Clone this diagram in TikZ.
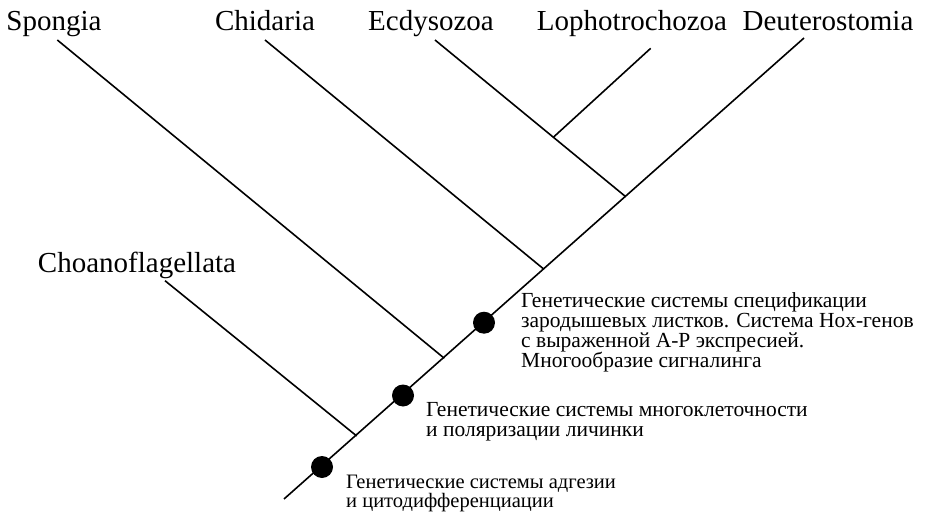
\documentclass[tikz,border=0pt]{standalone}
\usepackage{fontspec}
\setmainfont{Liberation Serif}
\begin{document}
\begin{tikzpicture}[x=1pt,y=-1pt,
  branch/.style={line width=1.6pt,line cap=butt},
  taxon/.style={inner sep=0pt,anchor=base,font=\fontsize{29}{29}\selectfont},
  note/.style={inner sep=0pt,anchor=north west,align=left,font=\fontsize{21.5}{20}\selectfont},
  event/.style={circle,fill=black,draw=none,minimum size=22pt,inner sep=0pt}]
\useasboundingbox (0,0) rectangle (926,513);
% trunk and junctions
\coordinate (root) at (284,499);
\coordinate (jchoano) at (356.7,436);
\coordinate (jspongia) at (444.3,358.3);
\coordinate (jcnid) at (544,269.3);
\coordinate (jecdy) at (625.7,196.7);
\coordinate (jlopho) at (553.3,137.3);
% branch tips
\coordinate (tdeut) at (804,38);
\coordinate (tchoano) at (165,280.7);
\coordinate (tspongia) at (57.3,40);
\coordinate (tcnid) at (265,40);
\coordinate (tecdy) at (435,40);
\coordinate (tlopho) at (650.7,48.3);
% labels
\node[taxon] (lspongia) at (54,31) {Spongia};
\node[taxon] (lcnid) at (265,31) {Chidaria};
\node[taxon] (lecdy) at (431,31) {Ecdysozoa};
\node[taxon] (llopho) at (632,31) {Lophotrochozoa};
\node[taxon] (ldeut) at (828,31) {Deuterostomia};
\node[taxon] (lchoano) at (137,272) {Choanoflagellata};
% lines
\draw[branch] (root) -- (tdeut);
\draw[branch] (jchoano) -- (tchoano);
\draw[branch] (jspongia) -- (tspongia);
\draw[branch] (jcnid) -- (tcnid);
\draw[branch] (jecdy) -- (tecdy);
\draw[branch] (jlopho) -- (tlopho);
% events
\node[event] (e1) at (322,467) {};
\node[event] (e2) at (403,395.5) {};
\node[event] (e3) at (484,322.7) {};
% notes
\node[note] (n3) at (521,292.5) {Генетические системы спецификации\\зародышевых листков. Система Hox-генов\\с выраженной A-P экспресией.\\Многообразие сигналинга};
\node[note] (n2) at (426,402) {Генетические системы многоклеточности\\и поляризации личинки};
\node[note,font=\fontsize{20.5}{14}\selectfont] (n1) at (346,475) {Генетические системы адгезии\\и цитодифференциации};
\end{tikzpicture}
\end{document}
